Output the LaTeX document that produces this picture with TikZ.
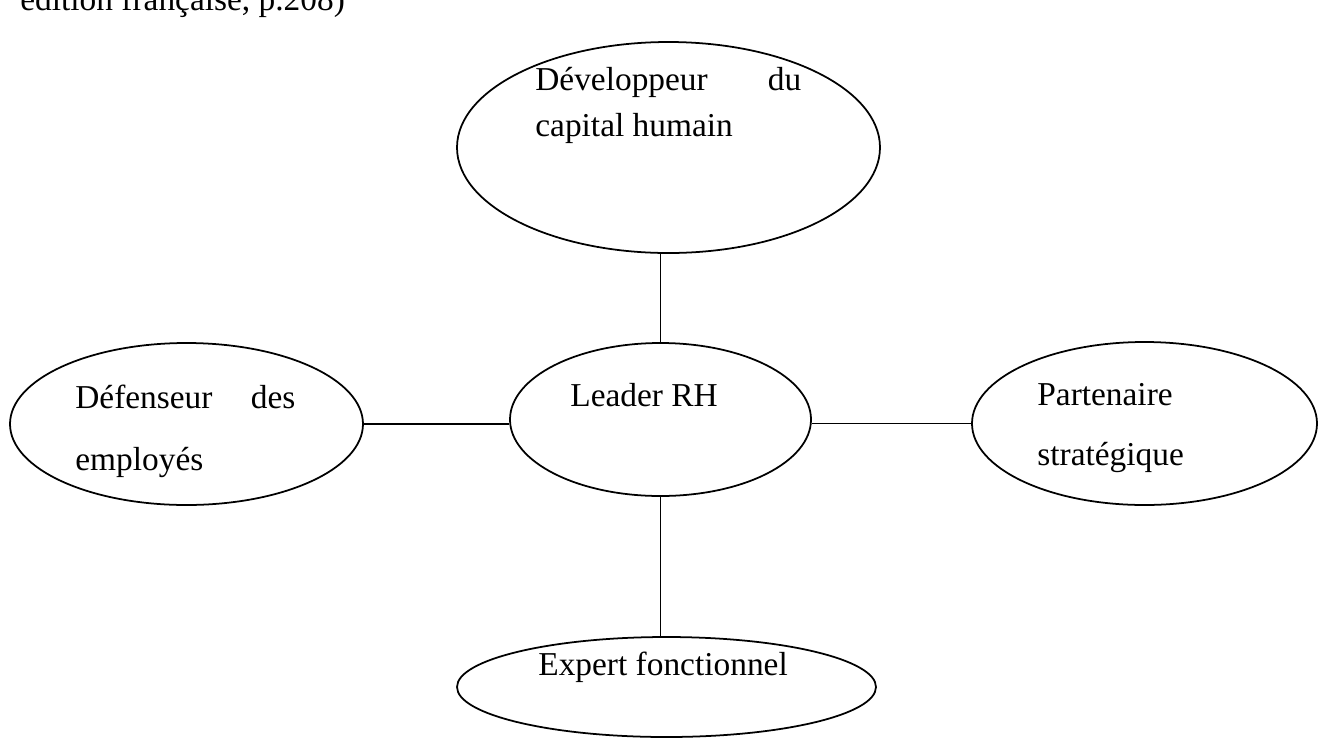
\documentclass[tikz,border=0pt]{standalone}
\usepackage{fontspec}
\setmainfont{Liberation Serif}
\usepackage{tikz}
\usetikzlibrary{shapes.geometric}
\hbadness=10000

\begin{document}
\begin{tikzpicture}[
    role/.style={draw, ellipse, line width=1pt, inner sep=0pt},
    roletext/.style={inner sep=0pt, anchor=base west, align=justify},
    link/.style={line width=1pt},
]
  \clip (0,0) rectangle (26.52,-14.74);

  % caption line cut by the page top
  \node[roletext, font=\fontsize{19}{23}\selectfont] (source) at (0.40,-0.20) {édition française, p.208)};

  \node[role, minimum width=8.46cm, minimum height=4.22cm] (dev) at (13.37,-2.95) {};
  \node[role, minimum width=6.02cm, minimum height=3.06cm] (leader) at (13.21,-8.39) {};
  \node[role, minimum width=7.06cm, minimum height=3.24cm] (def) at (3.73,-8.48) {};
  \node[role, minimum width=6.90cm, minimum height=3.26cm] (part) at (22.89,-8.47) {};
  \node[role, minimum width=8.38cm, minimum height=2.00cm] (expert) at (13.33,-13.74) {};

  \node[roletext, text width=5.32cm, font=\fontsize{19}{26.6}\selectfont] (devtext) at (10.70,-1.80)
    {Développeur du\linebreak capital humain};
  \node[roletext, font=\fontsize{19}{23}\selectfont] (leadertext) at (11.40,-8.12) {Leader RH};
  \node[roletext, text width=4.40cm, font=\fontsize{19}{35}\selectfont] (deftext) at (1.50,-8.17)
    {Défenseur des\linebreak employés};
  \node[roletext, text width=3.20cm, font=\fontsize{19}{34.6}\selectfont, align=left] (parttext) at (20.74,-8.10)
    {Partenaire\\ stratégique};
  \node[roletext, font=\fontsize{19}{23}\selectfont] (experttext) at (10.76,-13.50) {Expert fonctionnel};

  \draw[link] (leader.north) -- (leader.north |- dev.south);
  \draw[link] (leader.south) -- (leader.south |- expert.north);
  \draw[link] (def.east) -- (def.east -| leader.west);
  \draw[link] (part.west) -- (part.west -| leader.east);
\end{tikzpicture}
\end{document}
